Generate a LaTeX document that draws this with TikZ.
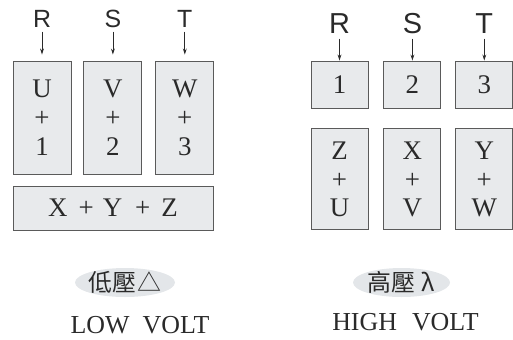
\documentclass[tikz,border=0pt]{standalone}
\usepackage{fontspec}
\setmainfont{Liberation Serif}
\setsansfont{Liberation Sans}
\newfontfamily\cjkfont{Noto Sans CJK TC}
\usetikzlibrary{arrows.meta, positioning, shapes.geometric}
\definecolor{wireInk}{HTML}{2A2A2A}
\definecolor{wireEdge}{HTML}{5A5A5A}
\definecolor{wireFill}{HTML}{E8EAEC}
\definecolor{wirePill}{HTML}{E3E6E9}

\begin{document}
\begin{tikzpicture}[
    x=1bp, y=-1bp,
    >={Stealth[length=6bp, width=3.8bp]},
    terminal/.style={
        draw=wireEdge,
        line width=0.9bp,
        fill=wireFill,
        inner sep=0pt,
        minimum width=58bp,
        align=center,
        text=wireInk,
        font=\fontsize{27}{29}\selectfont
    },
    tallbox/.style={terminal, minimum height=113bp},
    pinbox/.style={terminal, minimum width=57bp, minimum height=47bp},
    pairbox/.style={terminal, minimum width=57bp, minimum height=101bp},
    phase/.style={font=\sffamily\fontsize{25}{25}\selectfont, inner sep=0pt, text=wireInk},
    bigphase/.style={phase, font=\sffamily\fontsize{29}{29}\selectfont},
    feed/.style={->, line width=0.8bp, draw=wireInk},
    pill/.style={ellipse, fill=wirePill, inner sep=0pt},
    tag/.style={font=\cjkfont\fontsize{24}{24}\selectfont, inner sep=0pt, text=wireInk},
    caption/.style={font=\fontsize{26}{26}\selectfont, inner sep=0pt, text=wireInk, anchor=base},
]
\useasboundingbox (0,0) rectangle (513,339);

% low voltage: delta
\node[tallbox] (u1) at (42,117.5) {U\\+\\1};
\node[tallbox, right=12bp of u1] (v2) {V\\+\\2};
\node[tallbox, right=13bp of v2] (w3) {W\\+\\3};
\node[terminal, minimum width=200bp, minimum height=44bp] (xyz) at (113,208)
    {X\hspace{11bp}+\hspace{9bp}Y\hspace{13bp}+\hspace{11bp}Z};

\node[phase, above=33bp of u1] (lR) {R};
\node[phase, above=33bp of v2] (lS) {S};
\node[phase, above=33bp of w3] (lT) {T};
\foreach \p/\b in {lR/u1, lS/v2, lT/w3}
    \draw[feed, shorten <=4bp, shorten >=6bp] (\p) -- (\b);

% high voltage: star
\node[pinbox] (p1) at (339.5,84.5) {1};
\node[pinbox, right=15bp of p1] (p2) {2};
\node[pinbox, right=14bp of p2] (p3) {3};
\node[pairbox, below=20bp of p1] (zu) {Z\\+\\U};
\node[pairbox, below=20bp of p2] (xv) {X\\+\\V};
\node[pairbox, below=20bp of p3] (yw) {Y\\+\\W};

\node[bigphase, above=27bp of p1] (hR) {R};
\node[bigphase, above=27bp of p2] (hS) {S};
\node[bigphase, above=27bp of p3] (hT) {T};
\foreach \p/\b in {hR/p1, hS/p2, hT/p3}
    \draw[feed, shorten <=5bp] (\p) -- (\b);

% captions
\node[pill, minimum width=100bp, minimum height=29bp] (lowpill) at (125,282.5) {};
\node[tag] (lowtag) at (lowpill) {低壓\hspace{2bp}△};
\node[caption] (lowvolt) at (140,333) {LOW\hspace{13bp}VOLT};

\node[pill, minimum width=97bp, minimum height=29bp] (highpill) at (401.5,282.5) {};
\node[tag] (hightag) at (highpill) {高壓\hspace{6bp}λ};
\node[caption] (highvolt) at (405.5,330) {HIGH\hspace{15bp}VOLT};
\end{tikzpicture}
\end{document}
